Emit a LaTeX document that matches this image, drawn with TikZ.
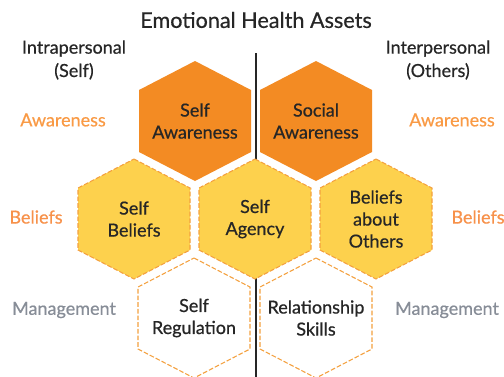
\documentclass[tikz,border=0pt]{standalone}
\usepackage{fontspec}
\setmainfont{Lato}[FakeBold=0.6]
\definecolor{awareorange}{HTML}{F38B23}
\definecolor{beliefyellow}{HTML}{FDD14D}
\definecolor{hexedge}{HTML}{F4A03E}
\definecolor{inktext}{HTML}{262626}
\definecolor{awaretext}{HTML}{F99A45}
\definecolor{belieftext}{HTML}{F7914A}
\definecolor{managetext}{HTML}{878D97}
\tikzset{
  awarehex/.style={fill=awareorange},
  beliefhex/.style={fill=beliefyellow,draw=hexedge,line width=0.8pt,dash pattern=on 3.5pt off 1.5pt},
  managehex/.style={fill=white,draw=hexedge,line width=0.8pt,dash pattern=on 3.5pt off 1.5pt},
  divider/.style={draw=inktext,line width=1.1pt},
  cell/.style={align=center,font=\fontsize{13.5}{16.5}\selectfont,color=inktext},
  side/.style={align=center,font=\fontsize{13.5}{17.5}\selectfont}
}
\tikzstyle{every node}=[inner sep=0pt]

\begin{document}
\begin{tikzpicture}[x=0.75pt,y=-0.75pt]
    \useasboundingbox (0,0) rectangle (504,376);
    \coordinate (top) at (256,53);
    \coordinate (bottom) at (256,380);
    \draw [divider] (top) -- (bottom);
    \foreach \x/\y/\s in {195/121/awarehex,316/121/awarehex,
        134/219/beliefhex,255/219/beliefhex,376/219/beliefhex,
        194/318/managehex,316/318/managehex}
      \path [\s] (\x,\y) +(0,-60) -- +(56,-31) -- +(56,31) -- +(0,60) -- +(-56,31) -- +(-56,-31) -- cycle;
    \node [font=\fontsize{16.2}{18}\selectfont,color=inktext] (title) at (256,20) {Emotional Health Assets};
    \node [side,color=inktext] (intra) at (74,60) {Intrapersonal\\(Self)};
    \node [side,color=inktext] (inter) at (438,60) {Interpersonal\\(Others)};
    \node [side,color=awaretext] (awareL) at (63,120) {Awareness};
    \node [side,color=awaretext] (awareR) at (452,120) {Awareness};
    \node [side,color=belieftext] (beliefL) at (36,217) {Beliefs};
    \node [side,color=belieftext] (beliefR) at (478,217) {Beliefs};
    \node [side,color=managetext] (manageL) at (64,310) {Management};
    \node [side,color=managetext] (manageR) at (447,310) {Management};
    \node [cell] (SA) at (195,121) {Self\\Awareness};
    \node [cell] (SoA) at (316,121) {Social\\Awareness};
    \node [cell] (SB) at (134,219) {Self\\Beliefs};
    \node [cell] (SAg) at (255,219) {Self\\Agency};
    \node [cell] (BO) at (376,219) {Beliefs\\about\\Others};
    \node [cell] (SR) at (194,318) {Self\\Regulation};
    \node [cell] (RS) at (316,318) {Relationship\\Skills};
\end{tikzpicture}
\end{document}
